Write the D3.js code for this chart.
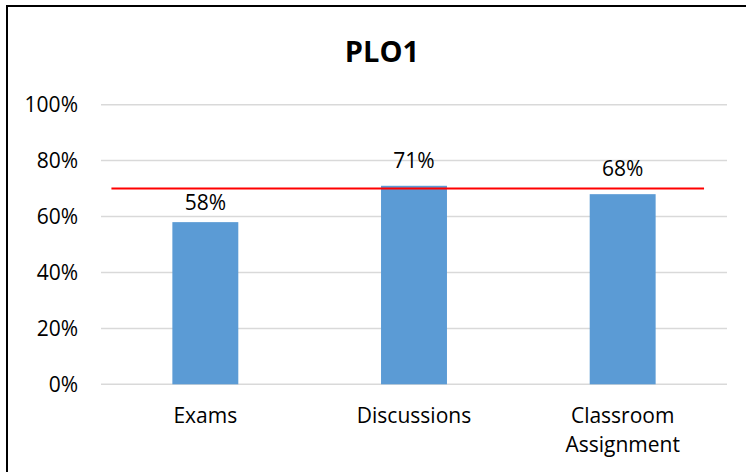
<!DOCTYPE html>
<html>
<head>
<meta charset="utf-8">
<title>PLO1</title>
<script src="https://cdn.jsdelivr.net/npm/d3@7"></script>
<style>
* { margin: 0; padding: 0; }
body { background: #fff; }
svg text { font-family: "Open Sans", sans-serif; fill: #000; }
</style>
</head>
<body>
<svg width="746" height="472" id="chart"></svg>
<script>
// data
var categories = ["Exams", "Discussions", "Classroom Assignment"];
var values = [0.58, 0.71, 0.68];
var target = 0.70;
var yTicks = [0, 0.2, 0.4, 0.6, 0.8, 1.0];
var title = "PLO1";

var svg = d3.select("#chart");

// frame (right and bottom edges fall outside the picture)
svg.append("rect")
	.attr("x", 7).attr("y", 6)
	.attr("width", 800).attr("height", 520)
	.attr("fill", "none").attr("stroke", "#000").attr("stroke-width", 2);

var x = d3.scaleBand().domain(categories).range([101, 727])
	.paddingInner(0.684).paddingOuter(0.342);
var y = d3.scaleLinear().domain([0, 1]).range([384.3, 104.7]);

// gridlines
svg.append("g").selectAll("line").data(yTicks).enter().append("line")
	.attr("x1", 101).attr("x2", 727)
	.attr("y1", function(d) { return y(d); })
	.attr("y2", function(d) { return y(d); })
	.attr("stroke", "#d9d9d9").attr("stroke-width", 1.5);

// y axis labels
svg.append("g").selectAll("text").data(yTicks).enter().append("text")
	.attr("x", 78)
	.attr("y", function(d) { return y(d); })
	.attr("dy", "0.36em")
	.attr("text-anchor", "end")
	.style("font-size", "21px")
	.text(d3.format(".0%"));

// bars
svg.append("g").selectAll("rect").data(values).enter().append("rect")
	.attr("x", function(d, i) { return x(categories[i]); })
	.attr("y", function(d) { return y(d); })
	.attr("width", x.bandwidth())
	.attr("height", function(d) { return y(0) - y(d); })
	.attr("fill", "#5b9bd5");

// target line
var step = x.step();
svg.append("line")
	.attr("x1", x(categories[0]) + x.bandwidth() / 2 - 0.45 * step)
	.attr("x2", x(categories[2]) + x.bandwidth() / 2 + 0.39 * step)
	.attr("y1", y(target)).attr("y2", y(target))
	.attr("stroke", "#ff0000").attr("stroke-width", 2);

// value labels, lifted clear of the target line when close to it
svg.append("g").selectAll("text").data(values).enter().append("text")
	.attr("x", function(d, i) { return x(categories[i]) + x.bandwidth() / 2; })
	.attr("y", function(d) {
		var gap = Math.abs(y(d) - y(target)) < 15 ? 17.7 : 12;
		return y(d) - gap;
	})
	.attr("text-anchor", "middle")
	.style("font-size", "21px")
	.text(d3.format(".0%"));

// category labels
var xl = svg.append("g").selectAll("text").data(categories).enter().append("text")
	.attr("text-anchor", "middle")
	.style("font-size", "21px");
xl.each(function(d) {
	var t = d3.select(this);
	var cx = x(d) + x.bandwidth() / 2;
	var words = d.split(" ");
	words.forEach(function(w, k) {
		t.append("tspan").attr("x", cx).attr("y", 423 + k * 29).text(w);
	});
});

// title
svg.append("text")
	.attr("x", 382).attr("y", 61.7)
	.attr("text-anchor", "middle")
	.style("font-size", "29px").style("font-weight", "bold")
	.text(title);
</script>
</body>
</html>
